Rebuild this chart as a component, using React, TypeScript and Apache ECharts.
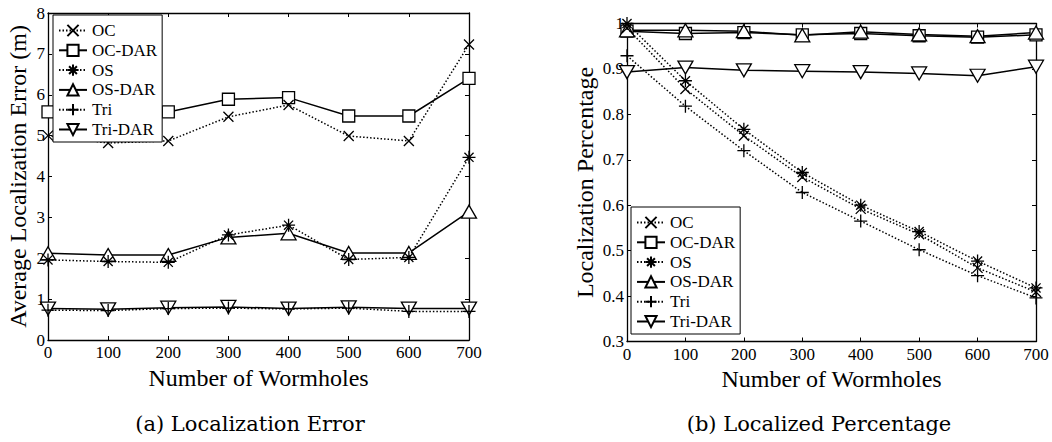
import React, { useEffect, useRef } from "react";
import * as echarts from "echarts";

const xVals = [0, 100, 200, 300, 400, 500, 600, 700];
const seriesNames = ["OC", "OC-DAR", "OS", "OS-DAR", "Tri", "Tri-DAR"];

// (a) Localization Error (m)
const ocErr = [5.0, 4.82, 4.87, 5.46, 5.75, 4.99, 4.87, 7.23];
const ocDarErr = [5.58, 5.58, 5.58, 5.89, 5.93, 5.48, 5.48, 6.4];
const osErr = [1.96, 1.92, 1.9, 2.57, 2.81, 1.97, 2.02, 4.47];
const osDarErr = [2.12, 2.08, 2.08, 2.51, 2.61, 2.13, 2.13, 3.14];
const triErr = [0.73, 0.72, 0.77, 0.78, 0.76, 0.78, 0.7, 0.7];
const triDarErr = [0.77, 0.75, 0.79, 0.81, 0.77, 0.8, 0.77, 0.77];

// (b) Localized Percentage
const ocPct = [0.99, 0.856, 0.753, 0.662, 0.592, 0.536, 0.462, 0.409];
const ocDarPct = [0.983, 0.978, 0.98, 0.975, 0.978, 0.973, 0.97, 0.975];
const osPct = [1.0, 0.874, 0.767, 0.672, 0.6, 0.542, 0.477, 0.418];
const osDarPct = [0.985, 0.985, 0.983, 0.974, 0.982, 0.976, 0.972, 0.98];
const triPct = [0.929, 0.818, 0.72, 0.628, 0.565, 0.502, 0.445, 0.396];
const triDarPct = [0.893, 0.903, 0.897, 0.895, 0.893, 0.89, 0.885, 0.905];

const captionA = "(a) Localization Error";
const captionB = "(b) Localized Percentage";

const FONT = '"Liberation Serif", "Times New Roman", serif';

const styles: Record<string, any> = {
  OC: { symbol: "path://M0,0L10,10M10,0L0,10", symbolSize: 10, dotted: true },
  "OC-DAR": { symbol: "rect", symbolSize: 12, dotted: false },
  OS: {
    symbol: "path://M0,5L10,5M5,0L5,10M1.5,1.5L8.5,8.5M8.5,1.5L1.5,8.5",
    symbolSize: 13,
    dotted: true,
  },
  "OS-DAR": { symbol: "triangle", symbolSize: [15, 13], dotted: false },
  Tri: { symbol: "path://M5,0L5,10M0,5L10,5", symbolSize: 13, dotted: true },
  "Tri-DAR": { symbol: "triangle", symbolSize: [15, 13], symbolRotate: 180, dotted: false },
};

function mkSeries(name: string, vals: number[], idx: number) {
  const st = styles[name];
  return {
    type: "line",
    name,
    xAxisIndex: idx * 2,
    yAxisIndex: idx * 2,
    data: xVals.map((x, i) => [x, vals[i]]),
    symbol: st.symbol,
    symbolSize: st.symbolSize,
    symbolRotate: st.symbolRotate || 0,
    showAllSymbol: true,
    silent: true,
    z: st.dotted ? 3 : 2,
    lineStyle: { color: "#000", width: 1.5, type: st.dotted ? [1.5, 2] : "solid" },
    itemStyle: { color: st.dotted ? "#000" : "#fff", borderColor: "#000", borderWidth: 1.3 },
    emphasis: { disabled: true },
  };
}

function xAxes(grid: number) {
  const base = {
    type: "value",
    gridIndex: grid,
    min: 0,
    max: 700,
    interval: 100,
    splitLine: { show: false },
    axisLine: { show: true, onZero: false, lineStyle: { color: "#000", width: 1.3 } },
    axisTick: { show: true, inside: true, length: 4, lineStyle: { color: "#000", width: 1 } },
  };
  return [
    {
      ...base,
      position: "bottom",
      axisLabel: { color: "#000", fontSize: 17, fontFamily: FONT, margin: 4 },
      name: "Number of Wormholes",
      nameLocation: "middle",
      nameGap: 22,
      nameTextStyle: { color: "#000", fontSize: 24, fontFamily: FONT },
    },
    { ...base, position: "top", axisLabel: { show: false } },
  ];
}

function yAxes(grid: number, min: number, max: number, interval: number, name: string, gap: number, fmt: (v: number) => string) {
  const base = {
    type: "value",
    gridIndex: grid,
    min,
    max,
    interval,
    splitLine: { show: false },
    axisLine: { show: true, onZero: false, lineStyle: { color: "#000", width: 1.3 } },
    axisTick: { show: true, inside: true, length: 4, lineStyle: { color: "#000", width: 1 } },
  };
  return [
    {
      ...base,
      position: "left",
      axisLabel: { color: "#000", fontSize: 17, fontFamily: FONT, margin: 3, formatter: fmt },
      name,
      nameLocation: "middle",
      nameGap: gap,
      nameTextStyle: { color: "#000", fontSize: 24, fontFamily: FONT },
    },
    { ...base, position: "right", axisLabel: { show: false } },
  ];
}

function legend(left: number, top: number) {
  return {
    orient: "vertical",
    left,
    top,
    data: seriesNames,
    backgroundColor: "#fff",
    borderColor: "#000",
    borderWidth: 1,
    borderRadius: 0,
    padding: [7, 5, 4, 5],
    itemWidth: 28,
    itemHeight: 14,
    itemGap: 2.8,
    selectedMode: false,
    textStyle: { color: "#000", fontSize: 17, fontFamily: FONT },
  };
}

export default function App() {
  const ref = useRef<HTMLDivElement>(null);
  useEffect(() => {
    if (!ref.current) return;
    const chart = echarts.init(ref.current, undefined, { renderer: "svg" });
    const fmtA = (v: number) => String(Math.round(v));
    const fmtB = (v: number) => (Math.abs(v - 1) < 1e-6 ? "1" : v.toFixed(1));
    chart.setOption({
      animation: false,
      backgroundColor: "#fff",
      textStyle: { fontFamily: FONT },
      grid: [
        { left: 48, top: 13, width: 421, height: 327 },
        { left: 627, top: 23.5, width: 409, height: 318 },
      ],
      xAxis: [...xAxes(0), ...xAxes(1)],
      yAxis: [
        ...yAxes(0, 0, 8, 1, "Average Localization Error (m)", 18, fmtA),
        ...yAxes(1, 0.3, 1, 0.1, "Localization Percentage", 30, fmtB),
      ],
      legend: [legend(53, 15), legend(631, 207)],
      series: [
        mkSeries("OC", ocErr, 0),
        mkSeries("OC-DAR", ocDarErr, 0),
        mkSeries("OS", osErr, 0),
        mkSeries("OS-DAR", osDarErr, 0),
        mkSeries("Tri", triErr, 0),
        mkSeries("Tri-DAR", triDarErr, 0),
        mkSeries("OC", ocPct, 1),
        mkSeries("OC-DAR", ocDarPct, 1),
        mkSeries("OS", osPct, 1),
        mkSeries("OS-DAR", osDarPct, 1),
        mkSeries("Tri", triPct, 1),
        mkSeries("Tri-DAR", triDarPct, 1),
      ],
      graphic: [
        {
          type: "text",
          x: 250,
          y: 424,
          style: { text: captionA, font: '21px "DejaVu Serif"', fill: "#000", textAlign: "center", textVerticalAlign: "middle" },
        },
        {
          type: "text",
          x: 819,
          y: 424,
          style: { text: captionB, font: '21px "DejaVu Serif"', fill: "#000", textAlign: "center", textVerticalAlign: "middle" },
        },
      ],
    });
    return () => chart.dispose();
  }, []);
  return (
    <div
      ref={ref}
      style={{ position: "absolute", left: 0, top: 0, width: 1052, height: 442, background: "#fff" }}
    />
  );
}
